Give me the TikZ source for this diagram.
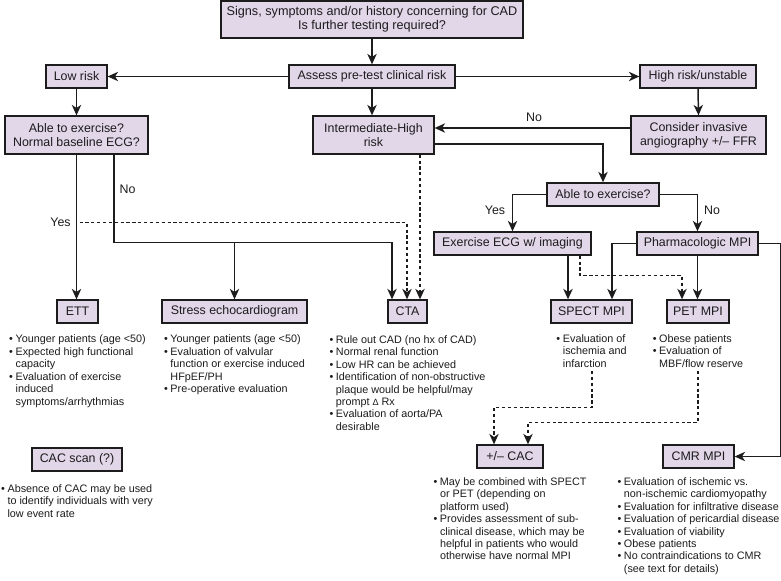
\documentclass[tikz,border=0pt]{standalone}
\usepackage{fontspec}
\setmainfont{Liberation Sans}
\usetikzlibrary{arrows.meta,calc}
\definecolor{boxfill}{RGB}{226,214,233}
\definecolor{ink}{RGB}{28,28,28}
\newcommand{\blist}[1]{\begin{tabular}[t]{@{}l@{\hspace{2pt}}l@{}}#1\end{tabular}}
\newcommand{\bu}{\textbullet}
\begin{document}
\begin{tikzpicture}[x=0.75pt,y=-0.75pt,
  box/.style={draw=ink, fill=boxfill, line width=1pt, inner sep=0pt, align=center,
    font=\fontsize{9.3}{10.8}\selectfont, text=ink, minimum height=17.25pt},
  tallbox/.style={box, minimum height=28.5pt},
  arr/.style={draw=ink, line width=1.1pt, -{Stealth[length=7.8pt,width=7pt,inset=2.3pt]}},
  darr/.style={arr, dash pattern=on 2.4pt off 2pt},
  lbl/.style={font=\fontsize{9.3}{10.8}\selectfont, text=ink, inner sep=0pt},
  bul/.style={font=\fontsize{8.1}{9.35}\selectfont, text=ink, inner sep=0pt, anchor=base},
]
\useasboundingbox (0,0) rectangle (781,581);
\fill[white] (0,0) rectangle (781,581);

% boxes
\node[box, minimum width=226.5pt, minimum height=27.75pt, font=\fontsize{9.5}{10.2}\selectfont] (top) at (372,19.5) {Signs, symptoms and/or history concerning for CAD\\Is further testing required?};
\node[box, minimum width=124.5pt] (assess) at (372,76.5) {Assess pre-test clinical risk};
\node[box, minimum width=45.75pt] (low) at (76.5,76.5) {Low risk};
\node[box, minimum width=87pt] (high) at (698,76.5) {High risk/unstable};
\node[tallbox, minimum width=107.25pt] (able1) at (76.5,135) {Able to exercise?\\Normal baseline ECG?};
\node[tallbox, minimum width=90.75pt] (inter) at (373.5,135) {Intermediate-High\\risk};
\node[tallbox, minimum width=101.25pt] (consider) at (698.5,135) {Consider invasive\\angiography +/– FFR};
\node[box, minimum width=84pt] (able2) at (603,194.5) {Able to exercise?};
\node[box, minimum width=117.75pt] (exer) at (512.5,243.5) {Exercise ECG w/ imaging};
\node[box, minimum width=90.75pt] (pharm) at (697.5,243.5) {Pharmacologic MPI};
\node[box, minimum width=30.75pt] (ett) at (77.5,311.5) {ETT};
\node[box, minimum width=108.75pt] (stress) at (234.5,311.5) {Stress echocardiogram};
\node[box, minimum width=29.25pt] (cta) at (407.5,311.5) {CTA};
\node[box, minimum width=60.75pt] (spect) at (591.5,311.5) {SPECT MPI};
\node[box, minimum width=46.5pt] (pet) at (698,311.5) {PET MPI};
\node[box, minimum width=67.5pt] (cacscan) at (77,459.5) {CAC scan (?)};
\node[box, minimum width=49.5pt] (pmcac) at (510,456.5) {+/– CAC};
\node[box, minimum width=53.25pt] (cmr) at (698.5,456.5) {CMR MPI};

% labels
\node[lbl] (lno1) at (127.5,189) {No};
\node[lbl] (lyes1) at (60.5,222) {Yes};
\node[lbl] (lno2) at (534,117) {No};
\node[lbl] (lyes2) at (495,210) {Yes};
\node[lbl] (lno3) at (712,210) {No};

% connectors top part
\draw[arr] (top.south) -- (assess.north);
\draw[arr] (assess.west) -- (low.east);
\draw[arr] (assess.east) -- (high.west);
\draw[arr] (low.south) -- (able1.north);
\draw[arr] (assess.south) -- (assess.south |- inter.north);
\draw[arr] (high.south) -- (consider.north);
\draw[arr] ($(consider.west)+(0,-7)$) -- ($(inter.east)+(0,-7)$);
\draw[arr] ($(inter.east)+(0,9)$) -| (able2.north);
\draw[arr] (able2.west) -| (exer.north);
\draw[arr] (able2.east) -| (pharm.north);

% right middle
\draw[arr] ($(exer.south)+(55.5,0)$) -- ($(spect.north)+(-23.5,0)$);
\draw[arr] (pharm.west) -| ($(spect.north)+(20.5,0)$);
\draw[arr] (pharm.south) -- (pharm.south |- pet.north);
\draw[darr] ($(exer.south)+(67.5,0)$) -- ++(0,20) -| ($(pet.north)+(-16,0)$);
\draw[arr] (pharm.east) -- ++(22,0) |- (cmr.east);

% left side
\draw[arr] (able1.south) -- (able1.south |- ett.north);
\draw[arr] ($(able1.south)+(37.5,0)$) |- ($(cta.north)+(-15.5,-57)$) -- ($(cta.north)+(-15.5,0)$);
\draw[arr] ($(stress.north)+(0,-57)$) -- (stress.north);
\draw[darr] ($(able1.south)+(3,68)$) -| ($(cta.north)+(-0.5,0)$);
\draw[darr] ($(inter.south)+(46.5,0)$) -- ($(cta.north)+(12.5,0)$);

% to +/- CAC
\coordinate (spectend) at (592,371);
\coordinate (petend) at (698,371);
\draw[darr] (spectend) |- ($(pmcac.north)+(-16,-37)$) -- ($(pmcac.north)+(-16,0)$);
\draw[darr] (petend) |- ($(pmcac.north)+(18,-22)$) -- ($(pmcac.north)+(18,0)$);

% bullet lists (centred under their boxes)
\node[bul] (ettl) at ($(ett.south)+(0,19)$) {\blist{%
\bu & Younger patients (age <50)\\
\bu & Expected high functional\\
 & capacity\\
\bu & Evaluation of exercise\\
 & induced\\
 & symptoms/arrhythmias}};
\node[bul] (stressl) at ($(stress.south)+(0,19)$) {\blist{%
\bu & Younger patients (age <50)\\
\bu & Evaluation of valvular\\
 & function or exercise induced\\
 & HFpEF/PH\\
\bu & Pre-operative evaluation}};
\node[bul] (ctal) at ($(cta.south)+(0,19.5)$) {\blist{%
\bu & Rule out CAD (no hx of CAD)\\
\bu & Normal renal function\\
\bu & Low HR can be achieved\\
\bu & Identification of non-obstructive\\
 & plaque would be helpful/may\\
 & prompt {\fontsize{6.8}{8}\selectfont Δ} Rx\\
\bu & Evaluation of aorta/PA\\
 & desirable}};
\node[bul] (spectl) at ($(spect.south)+(0,18.5)$) {\blist{%
\bu & Evaluation of\\
 & ischemia and\\
 & infarction}};
\node[bul] (petl) at ($(pet.south)+(0,18.5)$) {\blist{%
\bu & Obese patients\\
\bu & Evaluation of\\
 & MBF/flow reserve}};
\node[bul] (cacl) at ($(cacscan.south)+(0,20.5)$) {\blist{%
\bu & Absence of CAC may be used\\
 & to identify individuals with very\\
 & low event rate}};
\node[bul] (pmcacl) at ($(pmcac.south)+(0,16.5)$) {\blist{%
\bu & May be combined with SPECT\\
 & or PET (depending on\\
 & platform used)\\
\bu & Provides assessment of sub-\\
 & clinical disease, which may be\\
 & helpful in patients who would\\
 & otherwise have normal MPI}};
\node[bul] (cmrl) at ($(cmr.south)+(0,16.5)$) {\blist{%
\bu & Evaluation of ischemic vs.\\
 & non-ischemic cardiomyopathy\\
\bu & Evaluation for infiltrative disease\\
\bu & Evaluation of pericardial disease\\
\bu & Evaluation of viability\\
\bu & Obese patients\\
\bu & No contraindications to CMR\\
 & (see text for details)}};
\end{tikzpicture}
\end{document}
